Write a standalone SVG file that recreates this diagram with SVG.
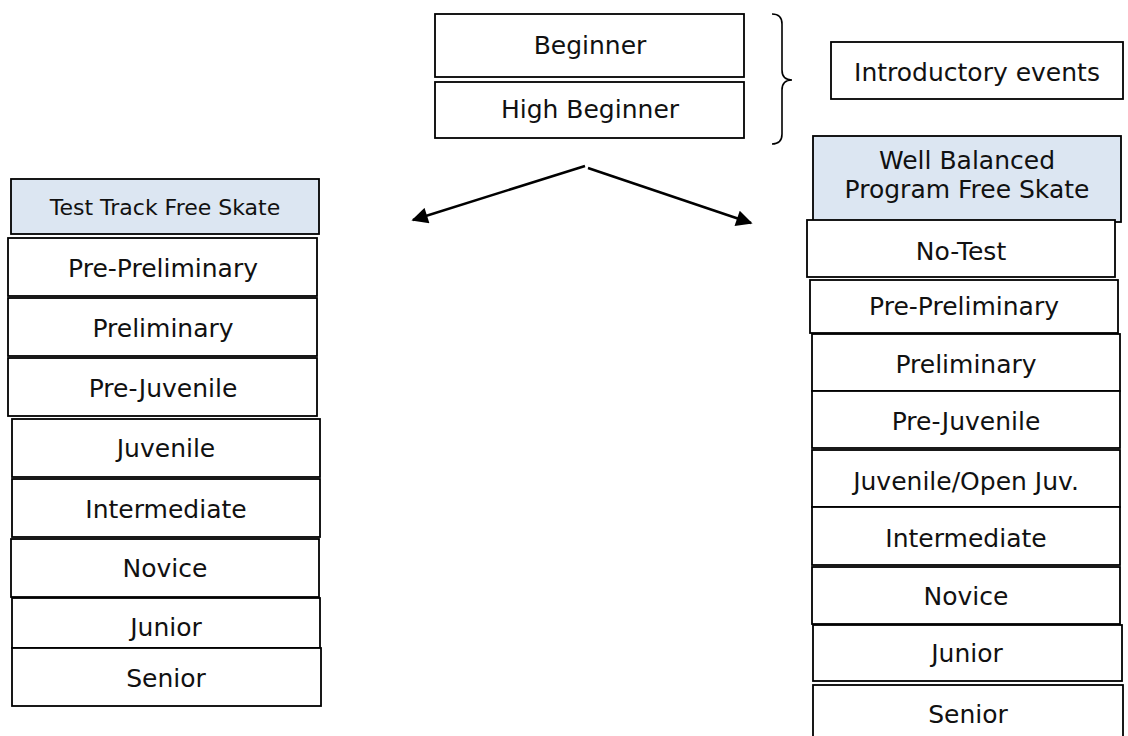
<svg xmlns="http://www.w3.org/2000/svg" width="1128" height="736" viewBox="0 0 1128 736">
<style>
  .box { fill: #ffffff; stroke: #000000; stroke-width: 1.8; }
  .hdr { fill: #dce6f2; stroke: #000000; stroke-width: 1.8; }
  .t { font-family: "DejaVu Sans", "Liberation Sans", sans-serif; font-size: 25px; fill: #111111; text-anchor: middle; }
  .ts { font-size: 22px; }
  .conn { fill: none; stroke: #000000; stroke-width: 2.5; }
  .brace { fill: none; stroke: #000000; stroke-width: 1.6; }
</style>
<defs>
  <marker id="arr" viewBox="0 0 10 10" refX="9" refY="5" markerWidth="7.5" markerHeight="6.5" markerUnits="strokeWidth" orient="auto">
    <path d="M0,0 L10,5 L0,10 z" fill="#000000"/>
  </marker>
</defs>
<rect width="1128" height="736" fill="#ffffff"/>

<g id="connectors">
  <path class="conn" d="M585,166 L413,220" marker-end="url(#arr)"/>
  <path class="conn" d="M588,168 L751,223" marker-end="url(#arr)"/>
  <path class="brace" d="M772,14 Q782,14 782,24 L782,70 Q782,80 792,80 Q782,80 782,90 L782,134 Q782,144 772,144"/>
</g>

<g id="beginner"><rect class="box" x="435" y="14" width="309" height="63"/><text class="t" x="590" y="54">Beginner</text></g>
<g id="high-beginner"><rect class="box" x="435" y="82" width="309" height="56"/><text class="t" x="590" y="118">High Beginner</text></g>
<g id="introductory"><rect class="box" x="831" y="42" width="292" height="57"/><text class="t" x="977" y="81">Introductory events</text></g>

<g id="left-header"><rect class="hdr" x="11" y="179" width="308" height="55"/><text class="t ts" x="165" y="215">Test Track Free Skate</text></g>
<g id="l-prepre"><rect class="box" x="8" y="238" width="309" height="58"/><text class="t" x="163" y="277">Pre-Preliminary</text></g>
<g id="l-pre"><rect class="box" x="8" y="298" width="309" height="58"/><text class="t" x="163" y="337">Preliminary</text></g>
<g id="l-prejuv"><rect class="box" x="8" y="358" width="309" height="58"/><text class="t" x="163" y="397">Pre-Juvenile</text></g>
<g id="l-juv"><rect class="box" x="12" y="419" width="308" height="58"/><text class="t" x="166" y="457">Juvenile</text></g>
<g id="l-int"><rect class="box" x="12" y="479" width="308" height="58"/><text class="t" x="166" y="518">Intermediate</text></g>
<g id="l-nov"><rect class="box" x="11" y="539" width="308" height="58"/><text class="t" x="165" y="577">Novice</text></g>
<g id="l-jun"><rect class="box" x="12" y="598" width="308" height="50"/><text class="t" x="166" y="636">Junior</text></g>
<g id="l-sen"><rect class="box" x="12" y="648" width="309" height="58"/><text class="t" x="166" y="687">Senior</text></g>

<g id="right-header"><rect class="hdr" x="813" y="136" width="308" height="86"/><text class="t" x="967" y="169">Well Balanced</text><text class="t" x="967" y="198">Program Free Skate</text></g>
<g id="r-notest"><rect class="box" x="807" y="220" width="308" height="57"/><text class="t" x="961" y="260">No-Test</text></g>
<g id="r-prepre"><rect class="box" x="810" y="280" width="308" height="53"/><text class="t" x="964" y="315">Pre-Preliminary</text></g>
<g id="r-pre"><rect class="box" x="812" y="334" width="308" height="57"/><text class="t" x="966" y="373">Preliminary</text></g>
<g id="r-prejuv"><rect class="box" x="812" y="391" width="308" height="57"/><text class="t" x="966" y="430">Pre-Juvenile</text></g>
<g id="r-juv"><rect class="box" x="812" y="450" width="308" height="57"/><text class="t" x="966" y="490">Juvenile/Open Juv.</text></g>
<g id="r-int"><rect class="box" x="812" y="507" width="308" height="58"/><text class="t" x="966" y="547">Intermediate</text></g>
<g id="r-nov"><rect class="box" x="812" y="567" width="308" height="57"/><text class="t" x="966" y="605">Novice</text></g>
<g id="r-jun"><rect class="box" x="813" y="625" width="309" height="56"/><text class="t" x="967" y="662">Junior</text></g>
<g id="r-sen"><rect class="box" x="813" y="685" width="310" height="60"/><text class="t" x="968" y="723">Senior</text></g>
</svg>
